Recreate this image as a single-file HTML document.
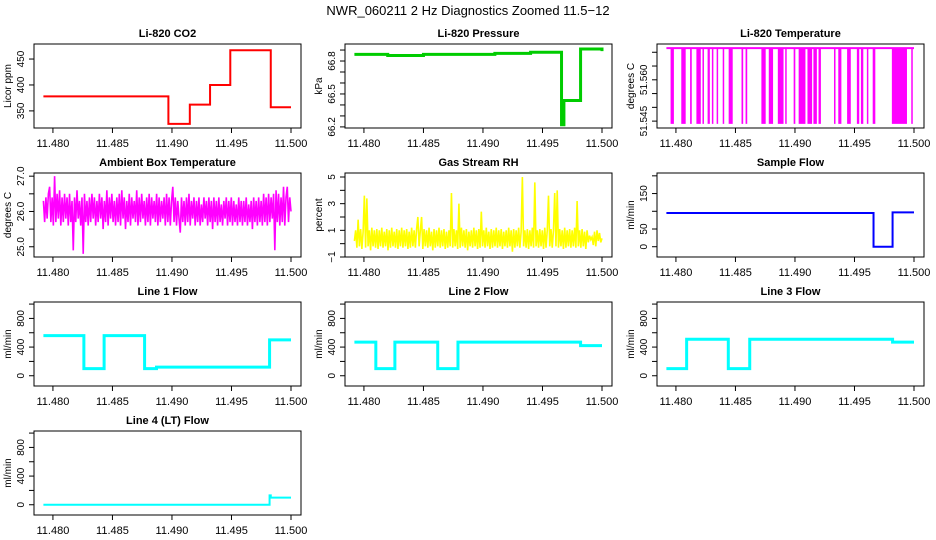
<!DOCTYPE html>
<html><head><meta charset="utf-8">
<style>
html,body{margin:0;padding:0;background:#fff;}
svg{display:block;font-family:"Liberation Sans",sans-serif;}
</style></head>
<body>
<svg id="chart" width="936" height="540" viewBox="0 0 936 540" xmlns="http://www.w3.org/2000/svg">
<text x="468" y="15" text-anchor="middle" font-size="13">NWR_060211  2 Hz Diagnostics Zoomed 11.5−12</text>
</svg>
<script>
// ---- shared axis data ----
const xTicks = [11.480, 11.485, 11.490, 11.495, 11.500];
const xTickLabels = ["11.480", "11.485", "11.490", "11.495", "11.500"];
const xStart = 11.4792, xEnd = 11.5000;

// ---- step series: [time, value] breakpoints ----
const co2Times = [11.4792, 11.4897, 11.4915, 11.4932, 11.4949, 11.4983, 11.5000];
const co2Values = [378, 325, 362, 400, 467, 357, 357];
const presTimes = [11.4792, 11.4805, 11.4820, 11.4850, 11.4880, 11.4910, 11.4940, 11.4966, 11.4968, 11.4982, 11.5000];
const presValues = [66.86, 66.86, 66.85, 66.86, 66.86, 66.87, 66.88, 66.22, 66.44, 66.91, 66.89];
const sampleTimes = [11.4792, 11.4966, 11.4982, 11.5000];
const sampleValues = [95, 0, 97, 97];
const line1Times = [11.4792, 11.4826, 11.4843, 11.4877, 11.4887, 11.4982, 11.5000];
const line1Values = [560, 100, 560, 100, 120, 500, 500];
const line2Times = [11.4792, 11.4810, 11.4826, 11.4862, 11.4879, 11.4982, 11.5000];
const line2Values = [470, 100, 470, 100, 470, 420, 420];
const line3Times = [11.4792, 11.4809, 11.4844, 11.4862, 11.4982, 11.5000];
const line3Values = [100, 510, 100, 510, 470, 470];
const line4Times = [11.4792, 11.4982, 11.4983, 11.5000];
const line4Values = [0, 130, 100, 100];

// ---- noisy series (evenly sampled from xStart to xEnd) ----
const ambientValues = [
26.3,25.7,26.4,25.8,26.5,26.7,25.7,26.4,25.6,27.0,25.7,26.5,25.8,26.6,25.6,26.4,25.7,26.5,25.8,26.4,
25.6,26.5,25.7,26.3,24.9,26.4,25.7,26.6,25.8,26.3,25.6,26.4,24.8,26.5,25.7,26.3,25.6,26.4,25.7,26.5,
25.8,26.4,25.6,26.3,25.7,26.5,25.8,26.4,25.5,26.3,25.7,26.6,25.6,26.4,25.8,26.5,25.7,26.3,25.6,26.4,
25.7,26.5,25.6,26.6,25.8,26.4,25.5,26.3,25.7,26.5,25.6,26.4,25.8,26.3,25.7,26.6,25.6,26.4,25.7,26.5,
25.8,26.3,25.6,26.4,25.7,26.5,25.6,26.4,25.8,26.3,25.7,26.5,25.6,26.4,25.7,26.3,25.8,26.4,25.6,26.5,
25.7,26.4,25.6,26.3,26.7,25.7,26.4,25.6,26.3,25.8,25.4,26.4,25.7,26.3,25.6,26.4,25.7,26.5,25.6,26.3,
25.8,26.4,25.6,26.3,25.7,26.4,25.6,26.2,25.7,26.4,25.8,26.3,25.6,26.4,25.7,26.3,25.5,26.4,25.7,26.3,
25.6,26.4,25.7,26.2,25.6,26.3,25.8,26.4,25.6,26.3,25.7,26.4,25.6,26.3,25.7,26.2,25.6,26.4,25.7,26.3,
25.6,26.3,25.7,26.4,25.6,26.2,25.7,26.3,25.5,26.4,25.7,26.3,25.6,26.4,25.7,26.3,25.6,26.5,25.7,26.4,
25.6,26.5,25.7,26.4,25.8,26.5,24.9,26.6,25.7,26.5,25.6,26.4,25.7,26.7,25.6,26.4,26.7,25.7,26.4,26.0];
const rhValues = [
0.2,1.0,-0.3,1.8,-0.2,1.1,-0.4,0.9,3.6,-0.3,3.4,-0.2,1.0,-0.5,1.2,-0.2,1.0,-0.3,1.1,-0.4,
1.0,-0.2,1.2,-0.3,0.9,-0.2,1.1,-0.5,1.0,-0.3,1.2,-0.2,0.9,-0.3,1.1,-0.4,1.0,-0.2,1.2,-0.3,
1.0,-0.2,1.1,-0.4,0.9,-0.3,1.2,-0.2,1.0,-0.3,1.1,2.0,-0.2,1.0,2.0,-0.4,1.1,-0.2,1.0,-0.3,
1.2,-0.2,0.9,-0.5,1.1,-0.3,1.0,-0.2,1.2,-0.3,1.0,-0.2,1.1,-0.4,0.9,-0.3,1.0,-0.2,3.8,-0.3,
1.1,-0.2,1.0,-0.4,3.0,-0.3,1.2,-0.2,1.0,-0.3,1.1,-0.5,0.9,-0.2,1.0,-0.3,1.2,-0.2,1.0,-0.4,
1.1,-0.3,2.4,-0.2,1.0,-0.3,1.2,-0.2,0.9,-0.4,1.1,-0.3,1.0,-0.2,1.2,-0.3,1.0,-0.2,1.1,-0.4,
0.9,-0.2,1.0,-0.3,1.2,-0.2,1.0,-0.6,1.1,-0.3,1.0,-0.2,1.2,-0.3,0.9,5.0,-0.2,1.0,-0.3,1.1,
-0.4,1.0,-0.2,1.2,-0.3,4.6,-0.2,1.0,-0.3,1.1,-0.2,1.0,-0.4,1.2,-0.3,1.0,3.6,-0.2,1.1,-0.3,
1.0,3.8,-0.2,4.0,-0.3,1.1,-0.2,1.0,-0.4,1.2,-0.3,1.0,-0.2,1.1,-0.3,1.0,-0.2,1.2,-0.3,3.2,
-0.2,1.0,-0.3,1.1,-0.2,0.9,-0.4,1.0,0.1,0.6,0.3,0.5,-0.1,0.9,-0.2,1.0,0.2,0.8,0.1,0.4];

// ---- Li-820 temperature: high level with drop intervals ----
const tempHigh = 51.5715, tempLow = 51.5440;
const dropStarts = [11.47955,11.48045,11.48119,11.48172,11.48223,11.48266,11.48302,11.48342,11.48393,11.48443,11.48551,11.48585,11.48718,11.48780,11.48856,11.48918,11.48989,11.49031,11.49105,11.49155,11.49198,11.49328,11.49364,11.49438,11.49520,11.49554,11.49604,11.49653,11.49814,11.49977];
const dropEnds   = [11.47983,11.48082,11.48133,11.48209,11.48232,11.48285,11.48314,11.48350,11.48404,11.48477,11.48565,11.48599,11.48754,11.48816,11.48904,11.48926,11.49003,11.49088,11.49144,11.49184,11.49218,11.49336,11.49390,11.49469,11.49540,11.49574,11.49613,11.49675,11.49941,11.49985];

const NS = "http://www.w3.org/2000/svg";
const svg = document.getElementById('chart');
const colLeft = [34, 345, 657], rowTop = [44, 173, 302, 431], W = 267, H = 84;
const X0 = 11.47841, X1 = 11.50084;

function mk(tag, attrs, parent) {
  const e = document.createElementNS(NS, tag);
  for (const k in attrs) e.setAttribute(k, attrs[k]);
  (parent || svg).appendChild(e);
  return e;
}

function panel(name, col, row, title, ylab, y0, y1, yTicks, yLabels) {
  const L = colLeft[col], T = rowTop[row];
  const g = mk('g', {});
  
  
  const sx = v => L + (v - X0) / (X1 - X0) * W;
  const sy = v => T + H - (v - y0) / (y1 - y0) * H;
  const t = mk('text', {x: L + W / 2, y: T - 7, 'text-anchor': 'middle', 'font-size': 11, 'font-weight': 'bold'}, g);
  t.textContent = title;
  
  
  const box = mk('rect', {x: L, y: T, width: W, height: H, fill: 'none', stroke: '#000', 'stroke-width': 1}, g);
  
  
  const xa = mk('g', {}, g);
  
  
  xTicks.forEach((v, i) => {
    mk('line', {x1: sx(v), x2: sx(v), y1: T + H, y2: T + H + 5, stroke: '#000'}, xa);
    const tl = mk('text', {x: sx(v), y: T + H + 19, 'text-anchor': 'middle', 'font-size': 11}, xa);
    tl.textContent = xTickLabels[i];
  });
  const ya = mk('g', {}, g);
  
  
  yTicks.forEach((v, i) => {
    mk('line', {x1: L - 5, x2: L, y1: sy(v), y2: sy(v), stroke: '#000'}, ya);
    if (yLabels[i]) {
      const tl = mk('text', {x: 0, y: 0, 'text-anchor': 'middle', 'font-size': 10, transform: `translate(${L - 10},${sy(v)}) rotate(-90)`}, ya);
      tl.textContent = yLabels[i];
    }
  });
  const yl = mk('text', {x: 0, y: 0, 'text-anchor': 'middle', 'font-size': 10, transform: `translate(${L - 23},${T + H / 2}) rotate(-90)`}, g);
  yl.textContent = ylab;
  
  
  return {g, sx, sy};
}

function stepLine(p, name, times, values, color, w) {
  let d = '';
  for (let i = 0; i < times.length; i++) {
    const x = p.sx(times[i]), y = p.sy(values[i]);
    if (i === 0) d += `M${x},${y}`;
    else d += `H${x}V${y}`;
  }
  d += `H${p.sx(xEnd)}`;
  const path = mk('path', {d, fill: 'none', stroke: color, 'stroke-width': w || 2}, p.g);
  
  
}

function noisy(p, name, values, color) {
  const n = values.length;
  const pts = values.map((v, i) => `${p.sx(xStart + (xEnd - xStart) * i / (n - 1))},${p.sy(v)}`).join(' ');
  const pl = mk('polyline', {points: pts, fill: 'none', stroke: color, 'stroke-width': 1.6}, p.g);
  
  
}

// CO2
let p = panel('co2', 0, 0, 'Li-820 CO2', 'Licor ppm', 317, 479, [350, 400, 450], ['350', '400', '450']);
stepLine(p, 'co2', co2Times, co2Values, '#ff0000');
// Pressure
p = panel('pressure', 1, 0, 'Li-820 Pressure', 'kPa', 66.19, 66.955, [66.2, 66.3, 66.4, 66.5, 66.6, 66.7, 66.8, 66.9], ['66.2', '', '', '66.5', '', '', '66.8', '']);
stepLine(p, 'pressure', presTimes, presValues, '#00cc00', 3);
// Temperature
p = panel('li820-temp', 2, 0, 'Li-820 Temperature', 'degrees C', 51.5425, 51.573, [51.545, 51.550, 51.555, 51.560, 51.565, 51.570], ['51.545', '', '', '51.560', '', '']);
{
  const hl = mk('line', {x1: p.sx(xStart), x2: p.sx(xEnd), y1: p.sy(tempHigh), y2: p.sy(tempHigh), stroke: '#ff00ff', 'stroke-width': 2}, p.g);
  
  
  dropStarts.forEach((s, i) => {
    const r = mk('rect', {x: p.sx(s), y: p.sy(tempHigh), width: Math.max(1.5, p.sx(dropEnds[i]) - p.sx(s)), height: p.sy(tempLow) - p.sy(tempHigh), fill: '#ff00ff'}, p.g);
    
    
  });
}
// Ambient
p = panel('ambient', 0, 1, 'Ambient Box Temperature', 'degrees C', 24.71, 27.09, [25.0, 25.5, 26.0, 26.5, 27.0], ['25.0', '', '26.0', '', '27.0']);
noisy(p, 'ambient', ambientValues, '#ff00ff');
// RH
p = panel('rh', 1, 1, 'Gas Stream RH', 'percent', -1, 5.3, [-1, 0, 1, 2, 3, 4, 5], ['−1', '', '1', '', '3', '', '5']);
noisy(p, 'rh', rhValues, '#ffff00');
// Sample flow
p = panel('sample-flow', 2, 1, 'Sample Flow', 'ml/min', -29, 208, [0, 50, 100, 150, 200], ['0', '50', '', '150', '']);
stepLine(p, 'sample-flow', sampleTimes, sampleValues, '#0000ff');
// Line flows
const fT = [0, 200, 400, 600, 800, 1000], fL = ['0', '', '400', '', '800', ''];
p = panel('line1-flow', 0, 2, 'Line 1 Flow', 'ml/min', -143, 1029, fT, fL);
stepLine(p, 'line1-flow', line1Times, line1Values, '#00ffff', 3);
p = panel('line2-flow', 1, 2, 'Line 2 Flow', 'ml/min', -143, 1029, fT, fL);
stepLine(p, 'line2-flow', line2Times, line2Values, '#00ffff', 3);
p = panel('line3-flow', 2, 2, 'Line 3 Flow', 'ml/min', -143, 1029, fT, fL);
stepLine(p, 'line3-flow', line3Times, line3Values, '#00ffff', 3);
p = panel('line4-flow', 0, 3, 'Line 4 (LT) Flow', 'ml/min', -143, 1029, fT, fL);
stepLine(p, 'line4-flow', line4Times, line4Values, '#00ffff', 2);
</script>
</body></html>
